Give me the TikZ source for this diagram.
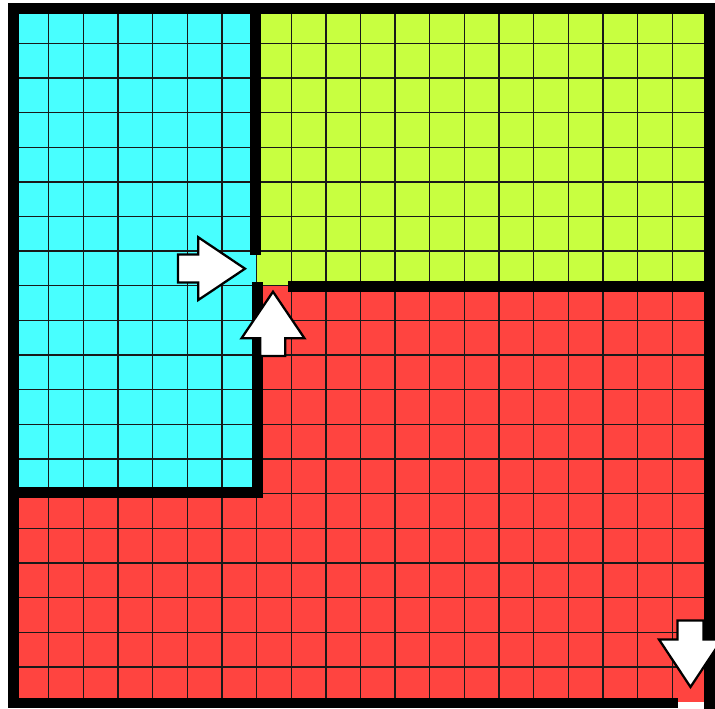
\documentclass[tikz,border=0pt]{standalone}
\definecolor{cyanc}{RGB}{72,255,255}
\definecolor{limec}{RGB}{200,255,64}
\definecolor{redc}{RGB}{255,68,64}
\begin{document}
\begin{tikzpicture}[x=0.75pt,y=-0.75pt,
  wall/.style={fill=black},
  gridline/.style={line width=1pt,black!90},
  arrowshape/.style={fill=white,draw=black,line width=1.7pt,line join=miter}]
\useasboundingbox (0,0) rectangle (715,709);
% region fills
\fill[cyanc] (14,8.6) rectangle (256.5,493.7);
\fill[limec] (256.5,8.6) rectangle (707,285.8);
\fill[redc] (256.5,285.8) rectangle (707,701.7);
\fill[redc] (14,493.7) rectangle (256.5,701.7);
% grid
\foreach \i in {1,...,19} {
  \draw[gridline] ({14+\i*34.65},8.6) -- ({14+\i*34.65},701.7);
  \draw[gridline] (14,{8.6+\i*34.65}) -- (707,{8.6+\i*34.65});
}
% outer walls
\fill[wall] (8,3) rectangle (19,708.3);
\fill[wall] (8,3) rectangle (715,14);
\fill[wall] (703.5,3) rectangle (715,709);
\fill[wall] (8,697.7) rectangle (678,708.3);
% inner walls
\fill[wall] (250,3) rectangle (261,255);
\fill[wall] (252,282) rectangle (262.5,497.7);
\fill[wall] (8,487) rectangle (262.5,497.7);
\fill[wall] (288,280.7) rectangle (715,291.7);
% arrows
\draw[arrowshape] (178,254.5) -- (198.3,254.5) -- (198.3,237.3) -- (245,268.7)
  -- (198.3,300) -- (198.3,282.5) -- (178,282.5) -- cycle;
\draw[arrowshape] (260.3,356) -- (260.3,338.3) -- (241.5,338.3) -- (273,291.7)
  -- (304.5,338.3) -- (285.3,338.3) -- (285.3,356) -- cycle;
\draw[arrowshape] (677.5,620.5) -- (703.5,620.5) -- (703.5,639.5) -- (722,639.5)
  -- (690.5,687) -- (659,639.5) -- (677.5,639.5) -- cycle;
\end{tikzpicture}
\end{document}
